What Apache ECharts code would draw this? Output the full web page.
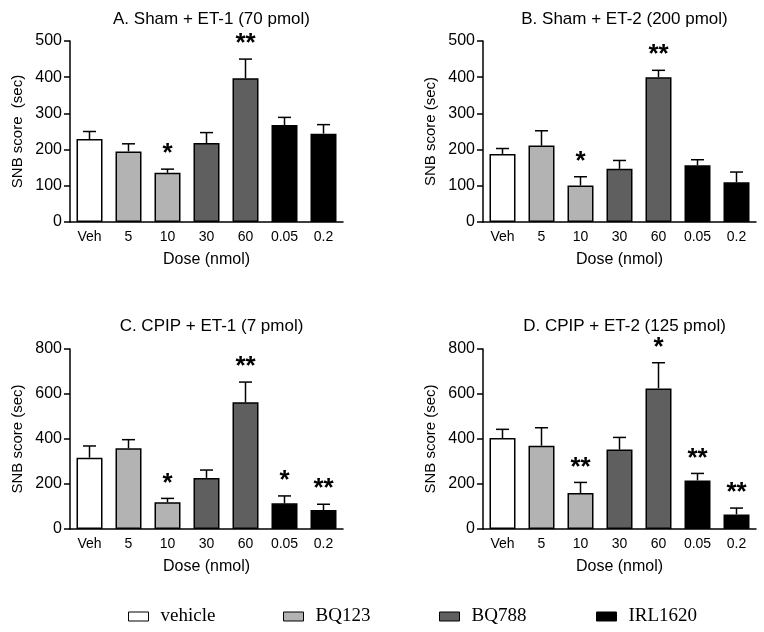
<!DOCTYPE html>
<html>
<head>
<meta charset="utf-8">
<script src="https://cdn.jsdelivr.net/npm/echarts@6/dist/echarts.min.js"></script>
<style>html,body{margin:0;padding:0;background:#fff}#c{width:764px;height:632px}</style>
</head>
<body>
<div id="c"></div>
<script>
const categories = ['Veh', '5', '10', '30', '60', '0.05', '0.2'];
const groupOfCategory = ['vehicle', 'BQ123', 'BQ123', 'BQ788', 'BQ788', 'IRL1620', 'IRL1620'];
const groups = ['vehicle', 'BQ123', 'BQ788', 'IRL1620'];
const groupColors = ['#ffffff', '#b3b3b3', '#5f5f5f', '#000000'];

const titles = ['A. Sham + ET-1 (70 pmol)', 'B. Sham + ET-2 (200 pmol)', 'C. CPIP + ET-1 (7 pmol)', 'D. CPIP + ET-2 (125 pmol)'];
const yNames = ['SNB score  (sec)', 'SNB score (sec)', 'SNB score (sec)', 'SNB score (sec)'];
const xName = 'Dose (nmol)';
const yMax = [500, 500, 800, 800];
const yStep = [100, 100, 200, 200];

const meanA = [229, 195, 136, 218, 397, 268, 244];
const semA  = [21, 21, 10, 29, 53, 21, 25];
const meanB = [188, 211, 101, 147, 400, 157, 110];
const semB  = [15, 41, 24, 23, 19, 15, 28];
const meanC = [317, 359, 119, 227, 563, 114, 84];
const semC  = [52, 38, 17, 35, 90, 33, 26];
const meanD = [404, 370, 160, 353, 625, 216, 65];
const semD  = [39, 80, 47, 54, 114, 31, 28];

const starsA = ['', '', '*', '', '**', '', ''];
const starsB = ['', '', '*', '', '**', '', ''];
const starsC = ['', '', '*', '', '**', '*', '**'];
const starsD = ['', '', '**', '', '*', '**', '**'];

const means = [meanA, meanB, meanC, meanD];
const sems = [semA, semB, semC, semD];
const stars = [starsA, starsB, starsC, starsD];

const FONT = '"Liberation Sans", Arial, sans-serif';
const SERIF = '"Liberation Serif", "Times New Roman", serif';
const gridPos = [
  {left: 70, top: 41, width: 273, height: 181},
  {left: 483, top: 41, width: 273, height: 181},
  {left: 70, top: 349, width: 273, height: 180},
  {left: 483, top: 349, width: 273, height: 180}
];
const titleTops = [6, 6, 313, 313];
const legendLefts = [123, 278, 434, 591];

const chart = echarts.init(document.getElementById('c'), null, {renderer: 'canvas'});

const grid = [], xAxis = [], yAxis = [], title = [], series = [];
for (let g = 0; g < 4; g++) {
  grid.push(Object.assign({containLabel: false}, gridPos[g]));
  title.push({
    text: titles[g],
    left: gridPos[g].left + gridPos[g].width / 2,
    top: titleTops[g],
    textAlign: 'center',
    textStyle: {fontFamily: FONT, fontSize: 17, fontWeight: 'normal', color: '#000'}
  });
  xAxis.push({
    type: 'category', gridIndex: g, data: categories,
    name: xName, nameLocation: 'middle', nameGap: 30,
    nameTextStyle: {fontFamily: FONT, fontSize: 16, color: '#000'},
    axisLine: {lineStyle: {color: '#000', width: 1.5}},
    axisTick: {show: false},
    axisLabel: {fontFamily: FONT, fontSize: 14, color: '#000', margin: 8, interval: 0}
  });
  yAxis.push({
    type: 'value', gridIndex: g, min: 0, max: yMax[g], interval: yStep[g],
    name: yNames[g], nameLocation: 'middle', nameGap: 45,
    nameTextStyle: {fontFamily: FONT, fontSize: 15, color: '#000'},
    axisLine: {show: true, lineStyle: {color: '#000', width: 1.5}},
    axisTick: {show: true, length: 6, lineStyle: {color: '#000', width: 1.5}},
    axisLabel: {fontFamily: FONT, fontSize: 16, color: '#000', margin: 8},
    splitLine: {show: false}
  });
  groups.forEach((grp, k) => {
    series.push({
      name: grp, type: 'bar', xAxisIndex: g, yAxisIndex: g,
      barWidth: 26, barGap: '-100%',
      itemStyle: {color: groupColors[k], borderColor: '#000', borderWidth: 1.5},
      data: means[g].map((v, i) => groupOfCategory[i] === grp ? v : '-'),
      z: 2
    });
  });
  const st = stars[g];
  series.push({
    type: 'custom', xAxisIndex: g, yAxisIndex: g, z: 5, silent: true,
    data: means[g].map((v, i) => [i, v, v + sems[g][i]]),
    renderItem: function (params, api) {
      const i = api.value(0);
      const p0 = api.coord([i, api.value(1)]);
      const p1 = api.coord([i, api.value(2)]);
      const half = 6.5;
      const children = [
        {type: 'line', shape: {x1: p0[0], y1: p0[1], x2: p1[0], y2: p1[1]}, style: {stroke: '#000', lineWidth: 1.5}},
        {type: 'line', shape: {x1: p1[0] - half, y1: p1[1], x2: p1[0] + half, y2: p1[1]}, style: {stroke: '#000', lineWidth: 1.5}}
      ];
      const s = st[params.dataIndex];
      if (s) {
        children.push({type: 'text', x: p1[0], y: p1[1] - 2,
          style: {text: s, fill: '#000', font: 'bold 26px ' + FONT, textAlign: 'center', textVerticalAlign: 'bottom'}});
      }
      return {type: 'group', children: children};
    }
  });
}

const legend = groups.map((grp, k) => ({
  data: [grp], left: legendLefts[k], top: 602, icon: 'rect',
  itemWidth: 20, itemHeight: 9,
  itemStyle: {borderColor: '#000', borderWidth: 1},
  textStyle: {fontFamily: SERIF, fontSize: 19, color: '#000', padding: [0, 0, 0, 7]},
  selectedMode: false
}));

chart.setOption({
  backgroundColor: '#fff',
  animation: false,
  title: title,
  legend: legend,
  grid: grid, xAxis: xAxis, yAxis: yAxis, series: series
});
</script>
</body>
</html>
